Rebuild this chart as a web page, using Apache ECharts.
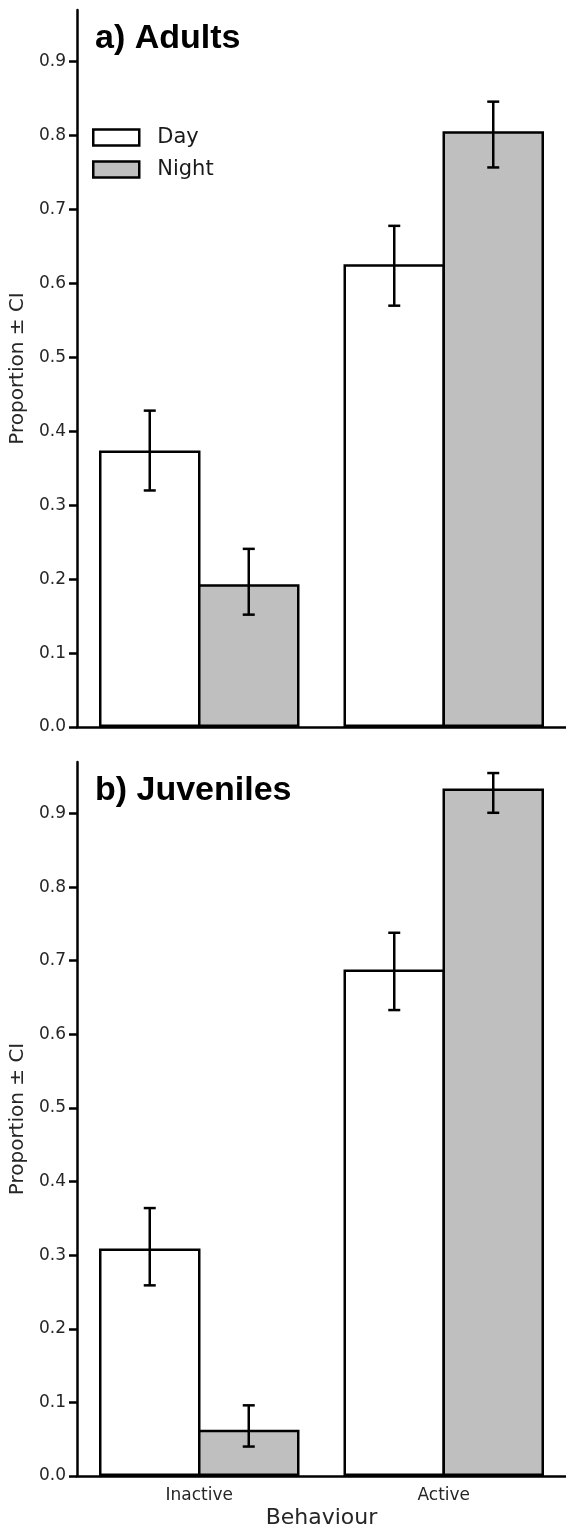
<!DOCTYPE html>
<html>
<head>
<meta charset="utf-8">
<script src="https://cdn.jsdelivr.net/npm/echarts@6/dist/echarts.min.js"></script>
<style>
  html, body { margin: 0; padding: 0; background: #fff; }
  #chart { width: 566px; height: 1530px; }
</style>
</head>
<body>
<div id="chart"></div>
<script>
// Behaviour proportions with confidence intervals, day vs night
const categories = ['Inactive', 'Active'];
const seriesNames = ['Day', 'Night'];
const panelTitles = ['a) Adults', 'b) Juveniles'];
const yTicks = [0, 0.1, 0.2, 0.3, 0.4, 0.5, 0.6, 0.7, 0.8, 0.9];
const yMax = 0.97;

// a) Adults
const adultsDay = [0.374, 0.626];
const adultsDayLow = [0.320, 0.570];
const adultsDayHigh = [0.428, 0.678];
const adultsNight = [0.193, 0.806];
const adultsNightLow = [0.152, 0.757];
const adultsNightHigh = [0.241, 0.846];

// b) Juveniles
const juvDay = [0.309, 0.688];
const juvDayLow = [0.259, 0.633];
const juvDayHigh = [0.364, 0.738];
const juvNight = [0.063, 0.934];
const juvNightLow = [0.040, 0.901];
const juvNightHigh = [0.096, 0.955];

const LINE_W = 2.5;
// ECharts draws bar borders inside the bar rect, so widen each bar by one
// border width and overlap neighbours by the same amount to share one edge.
const BAR_W = 99 + LINE_W;
const BAR_GAP = (-LINE_W / BAR_W * 100).toFixed(2) + '%';
const CAP_W = 12;
const INK = '#000';
const LABEL_INK = '#262626';
const FONT = 'DejaVu Sans';

const panels = [
  { day: adultsDay, dayLo: adultsDayLow, dayHi: adultsDayHigh,
    night: adultsNight, nightLo: adultsNightLow, nightHi: adultsNightHigh, top: 10 },
  { day: juvDay, dayLo: juvDayLow, dayHi: juvDayHigh,
    night: juvNight, nightLo: juvNightLow, nightHi: juvNightHigh, top: 762 }
];
const PANEL_H = 717;

// Error bar centred on the Day (side -1) or Night (side +1) bar
function errorBars(side) {
  return function (params, api) {
    const c = api.value(0);
    const lo = api.coord([c, api.value(1)]);
    const hi = api.coord([c, api.value(2)]);
    const x = lo[0] + side * (BAR_W - LINE_W) / 2;
    const style = { stroke: INK, lineWidth: LINE_W };
    return {
      type: 'group',
      children: [
        { type: 'line', shape: { x1: x, y1: lo[1], x2: x, y2: hi[1] }, style },
        { type: 'line', shape: { x1: x - CAP_W / 2, y1: hi[1], x2: x + CAP_W / 2, y2: hi[1] }, style },
        { type: 'line', shape: { x1: x - CAP_W / 2, y1: lo[1], x2: x + CAP_W / 2, y2: lo[1] }, style }
      ]
    };
  };
}

const grid = panels.map(p => ({ left: 77, right: 0, top: p.top, height: PANEL_H }));

const xAxis = panels.map((p, i) => ({
  type: 'category',
  gridIndex: i,
  data: categories,
  boundaryGap: true,
  z: 10,
  axisLine: { lineStyle: { color: INK, width: LINE_W } },
  axisTick: { alignWithLabel: true, length: 8, lineStyle: { color: INK, width: LINE_W } },
  axisLabel: { show: i === 1, fontFamily: FONT, fontSize: 17, color: LABEL_INK, margin: 11 },
  name: i === 1 ? 'Behaviour' : '',
  nameLocation: 'middle',
  nameGap: 31,
  nameTextStyle: { fontFamily: FONT, fontSize: 22, color: LABEL_INK }
}));

const yAxis = panels.map((p, i) => ({
  type: 'value',
  gridIndex: i,
  min: 0,
  max: yMax,
  splitLine: { show: false },
  axisLine: { show: true, lineStyle: { color: INK, width: LINE_W } },
  axisTick: { show: true, length: 8, customValues: yTicks, lineStyle: { color: INK, width: LINE_W } },
  axisLabel: {
    customValues: yTicks,
    formatter: v => v.toFixed(1),
    fontFamily: FONT, fontSize: 17, color: LABEL_INK, margin: 11
  },
  name: 'Proportion ± CI',
  nameLocation: 'middle',
  nameRotate: 90,
  nameGap: 40,
  nameTextStyle: { fontFamily: FONT, fontSize: 20, color: LABEL_INK }
}));

const series = [];
panels.forEach((p, i) => {
  series.push({
    name: seriesNames[0], type: 'bar', xAxisIndex: i, yAxisIndex: i,
    data: p.day, barWidth: BAR_W, barGap: BAR_GAP,
    itemStyle: { color: '#ffffff', borderColor: INK, borderWidth: LINE_W }
  });
  series.push({
    name: seriesNames[1], type: 'bar', xAxisIndex: i, yAxisIndex: i,
    data: p.night, barWidth: BAR_W, barGap: BAR_GAP,
    itemStyle: { color: '#bfbfbf', borderColor: INK, borderWidth: LINE_W }
  });
  series.push({
    name: 'Day CI', type: 'custom', xAxisIndex: i, yAxisIndex: i, z: 5,
    renderItem: errorBars(-1),
    encode: { x: 0, y: [1, 2] },
    data: categories.map((c, k) => [k, p.dayLo[k], p.dayHi[k]])
  });
  series.push({
    name: 'Night CI', type: 'custom', xAxisIndex: i, yAxisIndex: i, z: 5,
    renderItem: errorBars(1),
    encode: { x: 0, y: [1, 2] },
    data: categories.map((c, k) => [k, p.nightLo[k], p.nightHi[k]])
  });
});

const chart = echarts.init(document.getElementById('chart'), null, { renderer: 'canvas' });
chart.setOption({
  animation: false,
  backgroundColor: '#ffffff',
  title: panels.map((p, i) => ({
    text: panelTitles[i],
    left: 95,
    top: p.top + 12,
    padding: 0,
    textStyle: { fontFamily: 'Liberation Sans', fontWeight: 'bold', fontSize: 34, color: '#000' }
  })),
  legend: {
    data: seriesNames,
    orient: 'vertical',
    left: 87,
    top: 122,
    icon: 'rect',
    itemWidth: 46,
    itemHeight: 16,
    itemGap: 11,
    itemStyle: { borderColor: INK, borderWidth: LINE_W },
    textStyle: { fontFamily: FONT, fontSize: 21, color: '#1a1a1a', padding: [0, 0, 0, 13] }
  },
  grid,
  xAxis,
  yAxis,
  series
});
</script>
</body>
</html>
